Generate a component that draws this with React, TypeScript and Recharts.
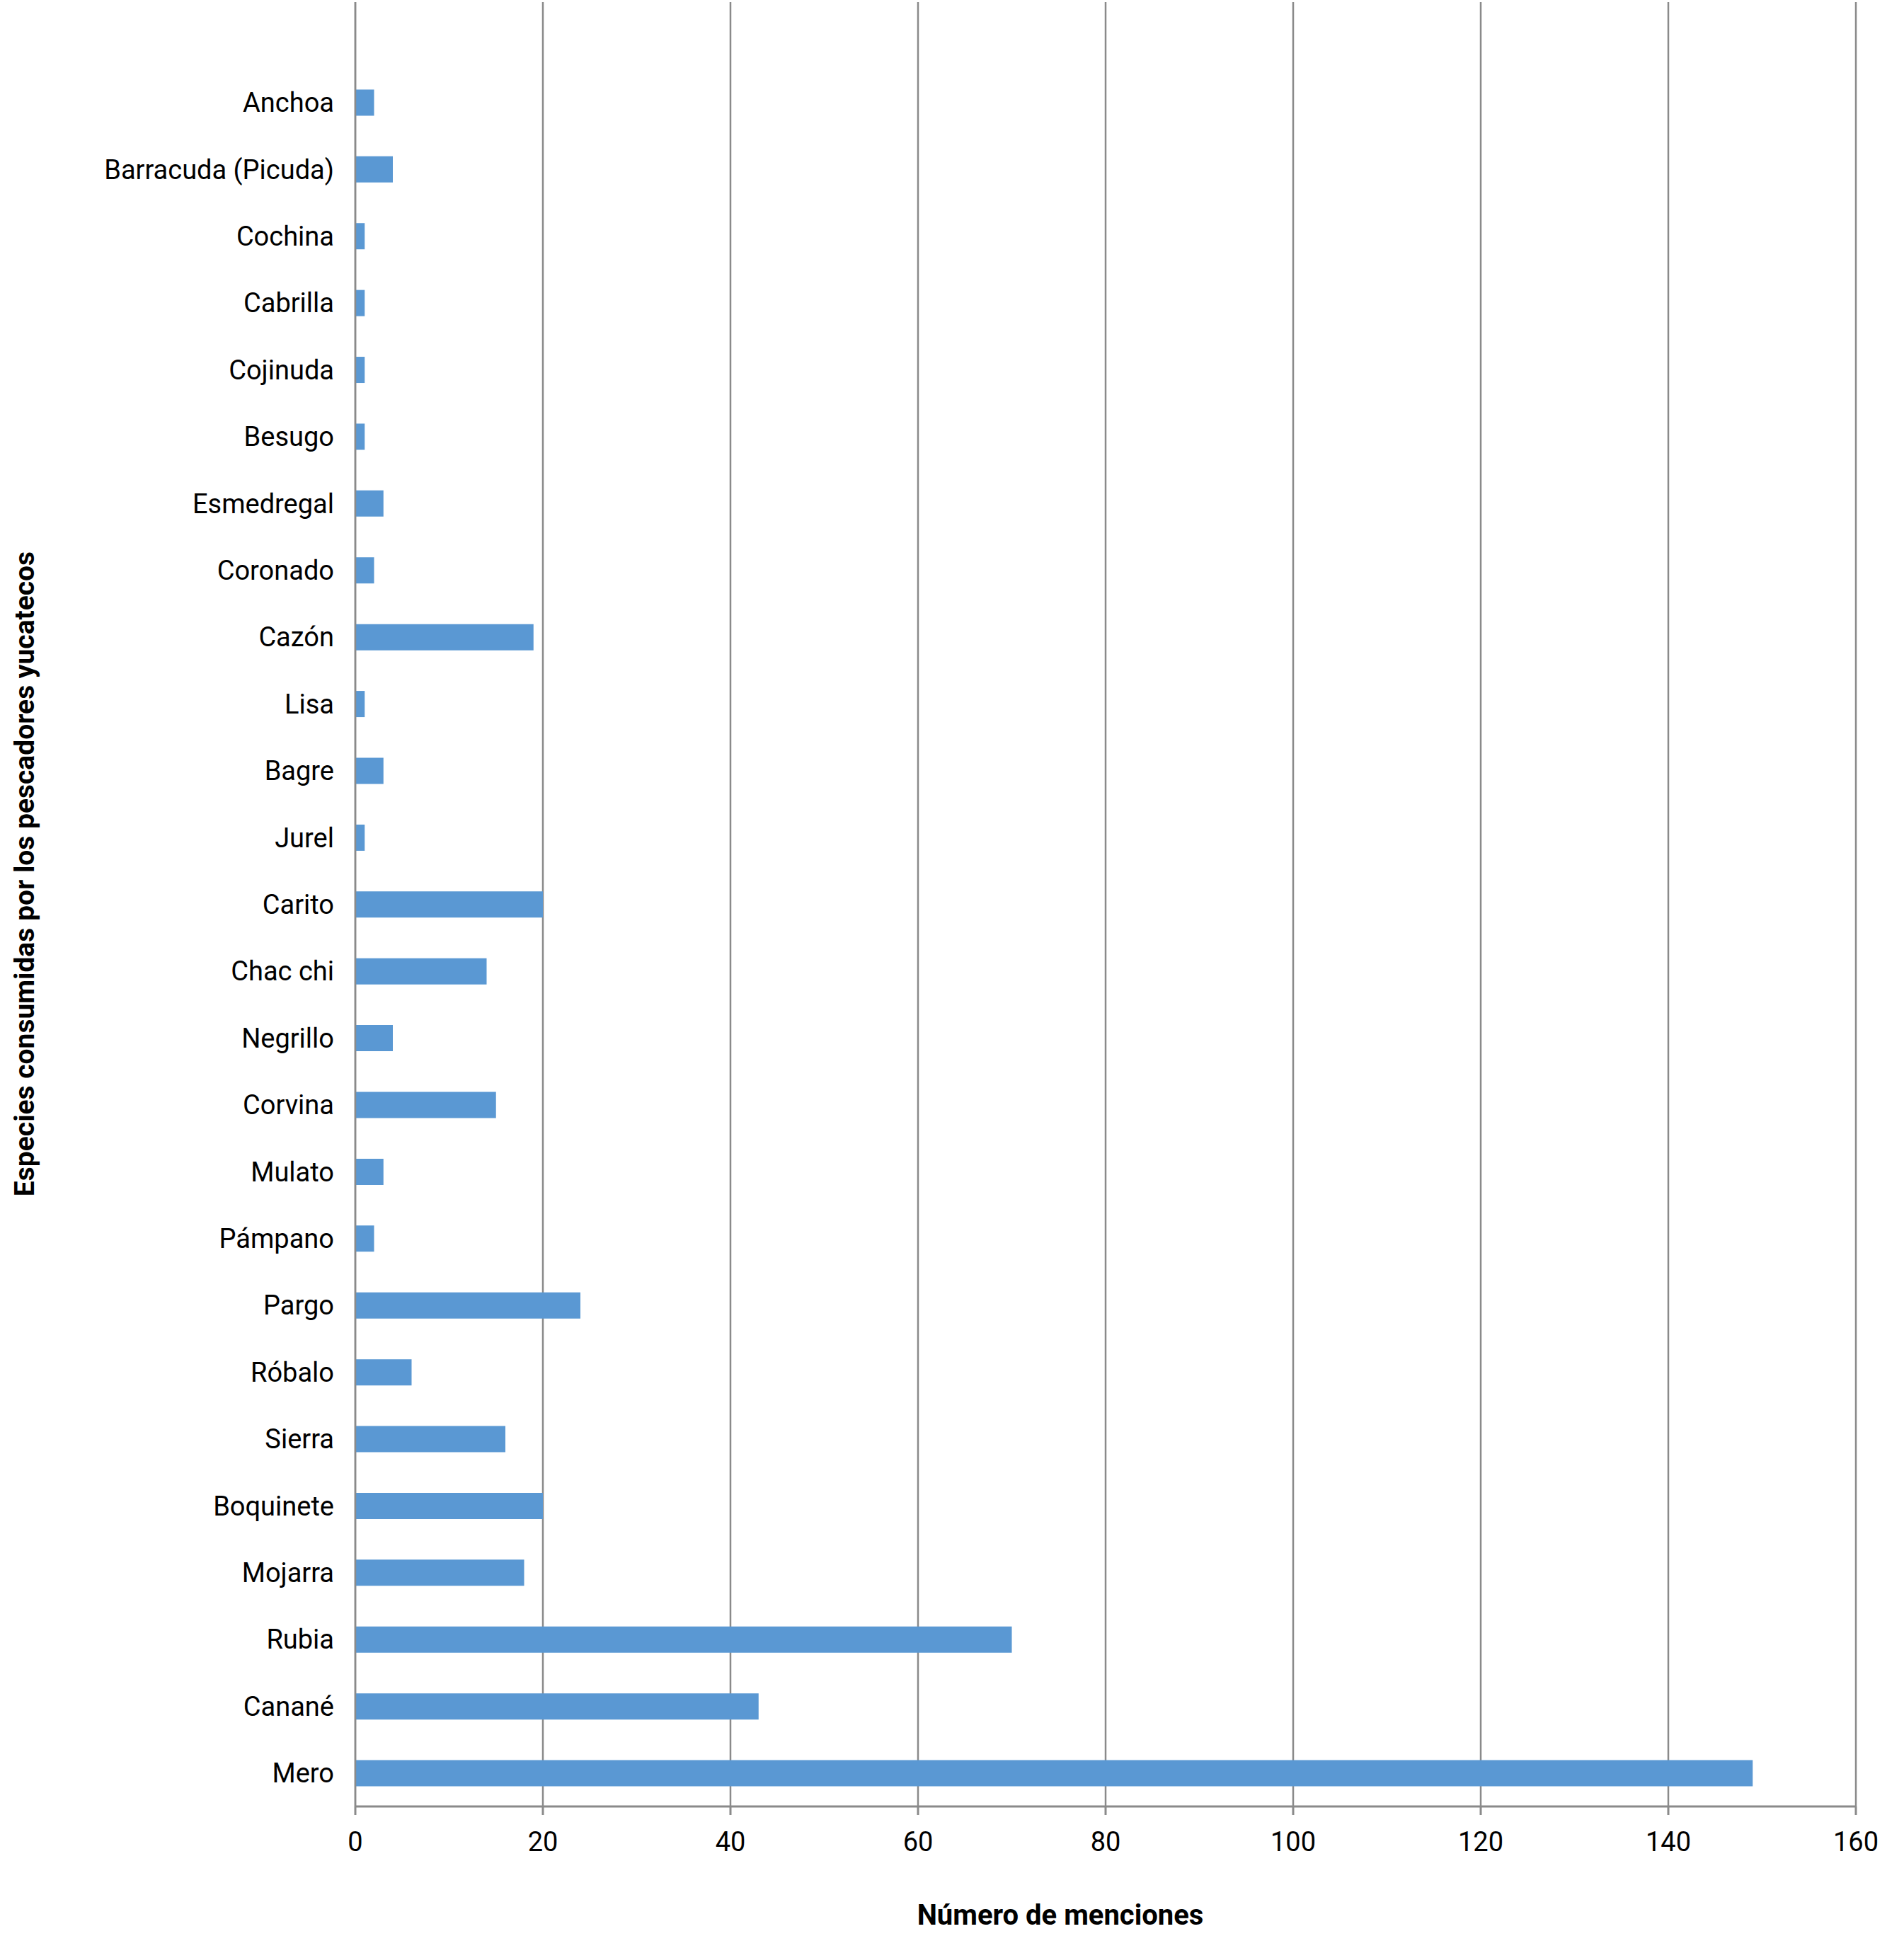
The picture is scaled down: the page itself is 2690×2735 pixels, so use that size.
import { Bar, BarChart, CartesianGrid, Label, XAxis, YAxis } from 'recharts';

// top row is an empty category, as in the original sheet
const species = [
  '',
  'Anchoa',
  'Barracuda (Picuda)',
  'Cochina',
  'Cabrilla',
  'Cojinuda',
  'Besugo',
  'Esmedregal',
  'Coronado',
  'Cazón',
  'Lisa',
  'Bagre',
  'Jurel',
  'Carito',
  'Chac chi',
  'Negrillo',
  'Corvina',
  'Mulato',
  'Pámpano',
  'Pargo',
  'Róbalo',
  'Sierra',
  'Boquinete',
  'Mojarra',
  'Rubia',
  'Canané',
  'Mero',
];

const menciones = [
  null, 2, 4, 1, 1, 1, 1, 3, 2, 19, 1, 3, 1, 20, 14, 4, 15, 3, 2, 24, 6, 16, 20, 18, 70, 43, 149,
];

const xTicks = [0, 20, 40, 60, 80, 100, 120, 140, 160];

const FONT = "Roboto, 'Noto Sans', sans-serif";
const GRID = '#8a8a8a';
const BLUE = '#5a98d3';

const data = species.map((name, i) => ({ name, value: menciones[i] }));

export default function App() {
  return (
    <div style={{ position: 'absolute', left: 0, top: 0, width: 2690, height: 2735, background: '#fff' }}>
      <BarChart
        width={2690}
        height={2735}
        data={data}
        layout='vertical'
        margin={{ top: 3, right: 68, bottom: 0, left: 0 }}
        style={{ fontFamily: FONT }}
      >
        <CartesianGrid horizontal={false} stroke={GRID} strokeWidth={2.5} />
        <XAxis
          type='number'
          domain={[0, 160]}
          ticks={xTicks}
          height={183}
          tickSize={12}
          tickMargin={24}
          stroke={GRID}
          strokeWidth={3}
          tick={{ fontSize: 38, fill: '#000' }}
        >
          <Label
            value='Número de menciones'
            position='insideBottom'
            offset={16}
            dx={-64}
            style={{ fontSize: 40, fontWeight: 700, fill: '#000' }}
          />
        </XAxis>
        <YAxis
          type='category'
          dataKey='name'
          width={502}
          interval={0}
          tickLine={false}
          tickSize={0}
          tickMargin={30}
          stroke={GRID}
          strokeWidth={2.5}
          tick={{ fontSize: 38, fill: '#000' }}
        >
          <Label
            content={({ viewBox }: any) => {
              const cx = viewBox.x + 35;
              const cy = viewBox.y + viewBox.height / 2 - 43;
              return (
                <text
                  x={cx}
                  y={cy}
                  transform={`rotate(-90 ${cx} ${cy})`}
                  textAnchor='middle'
                  dominantBaseline='central'
                  style={{ fontSize: 39, fontWeight: 700, fill: '#000', fontFamily: FONT }}
                >
                  Especies consumidas por los pescadores yucatecos
                </text>
              );
            }}
          />
        </YAxis>
        <Bar dataKey='value' fill={BLUE} barSize={37} isAnimationActive={false} />
      </BarChart>
    </div>
  );
}
